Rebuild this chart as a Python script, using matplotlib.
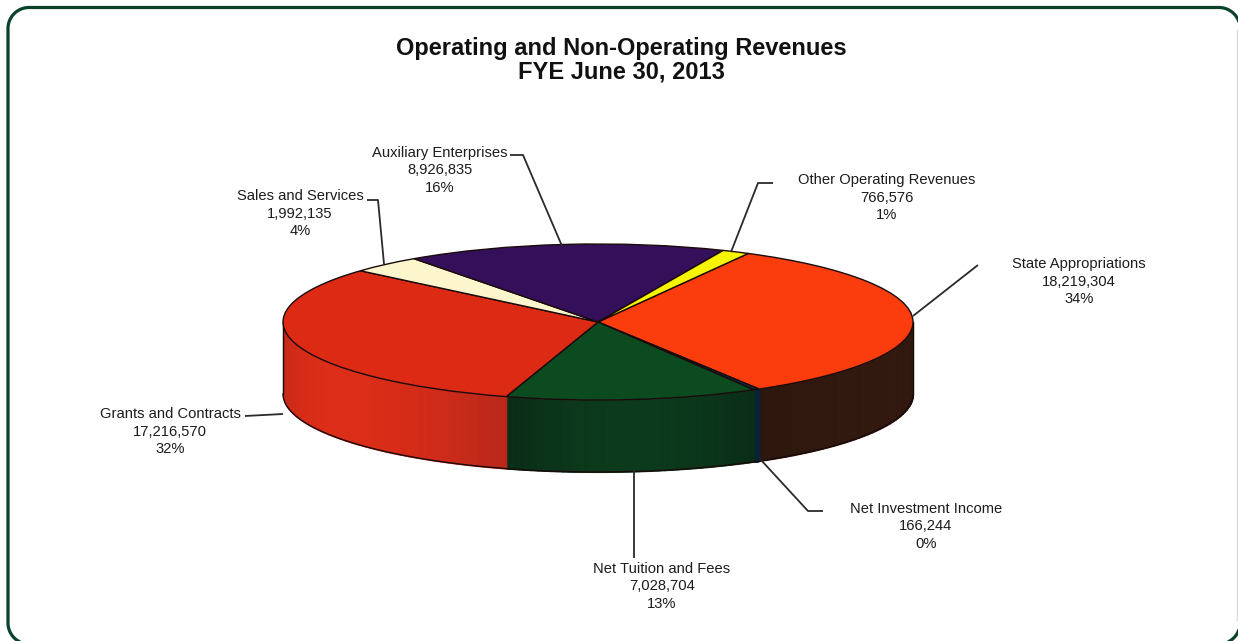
import matplotlib
matplotlib.use("Agg")
import matplotlib.pyplot as plt
import numpy as np
from matplotlib.colors import to_rgb

plt.rcParams['font.family'] = ['Liberation Sans', 'DejaVu Sans']

W, H = 1238, 641

categories = ["State Appropriations", "Net Investment Income", "Net Tuition and Fees",
              "Grants and Contracts", "Sales and Services", "Auxiliary Enterprises",
              "Other Operating Revenues"]
values = [18219304, 166244, 7028704, 17216570, 1992135, 8926835, 766576]
percents = ["34%", "0%", "13%", "32%", "4%", "16%", "1%"]

top_colors = ["#fb3d0e", "#0b2a4a", "#0c4a20", "#dc2a15", "#fdf6cc", "#34105a", "#f6f400"]
side_edge = ["#2c170e", "#06233a", "#0a2c17", "#b8281a", "#d8d2a8", "#220a3c", "#c0c000"]
side_mid = ["#32190f", "#06233a", "#0b3a1c", "#dc2d18", "#e8e2b8", "#2a0c48", "#d0d000"]

# pie centre / squash, in pixels
cx, cy, rx, ry, depth = 598, 322, 315, 78, 72

fig = plt.figure(figsize=(W / 100, H / 100), dpi=100, facecolor="white")

ax = fig.add_axes([0, 0, 1, 1])
wedges, _ = ax.pie(values, colors=top_colors, startangle=61.5, counterclock=False, radius=1,
                   wedgeprops=dict(edgecolor="#1a0a0a", linewidth=1.0, zorder=5))
ax.set_aspect("auto")
ax.set_xlim((0 - cx) / rx, (W - cx) / rx)
ax.set_ylim((cy - H) / ry, cy / ry)
ax.axis("off")

d = depth / ry
for w, ce, cm in zip(wedges, side_edge, side_mid):
    t1 = max(w.theta1 % 360 if w.theta1 % 360 > 90 else w.theta1, 180)
    t2 = min(w.theta2, 360)
    # wedges that wrap negative angles
    if w.theta2 <= 0:
        t1, t2 = max(w.theta1 + 360, 180), w.theta2 + 360
    elif w.theta1 < 0:
        t1, t2 = max(w.theta1 + 360, 180), 360
    if t2 <= t1:
        continue
    edges = np.linspace(t1, t2, 41)
    e_rgb, m_rgb = np.array(to_rgb(ce)), np.array(to_rgb(cm))
    for i in range(len(edges) - 1):
        f = abs((i + 0.5) / 40 - 0.5) * 2
        col = m_rgb + (e_rgb - m_rgb) * f ** 2
        th = np.radians(np.linspace(edges[i], edges[i + 1], 4))
        x = np.cos(th)
        ax.fill_between(x, np.sin(th) - d, np.sin(th), facecolor=col, edgecolor=col,
                        linewidth=0.8, zorder=2)

# outline of the side
th = np.radians(np.linspace(180, 360, 200))
ax.plot(np.cos(th), np.sin(th) - d, color="#1a0a0a", lw=1.0, zorder=3)
ax.plot([-1, -1], [0, -d], color="#1a0a0a", lw=1.0, zorder=3)
ax.plot([1, 1], [0, -d], color="#1a0a0a", lw=1.0, zorder=3)

# pixel overlay for the frame, labels and leader lines
ov = fig.add_axes([0, 0, 1, 1])
ov.set_xlim(0, W)
ov.set_ylim(H, 0)
ov.axis("off")
ov.patch.set_alpha(0)

# rounded frame, runs just off the right and bottom of the scan
x0, x1, y0, y1, r = 8, 1240, 7.5, 644, 21
arc = np.radians(np.linspace(0, 90, 20))
fx = np.concatenate([x1 - r + r * np.sin(arc), x1 - r + r * np.cos(arc), x0 + r - r * np.sin(arc),
                     x0 + r - r * np.cos(arc), [x1 - r]])
fy = np.concatenate([y0 + r - r * np.cos(arc), y1 - r + r * np.sin(arc), y1 - r + r * np.cos(arc),
                     y0 + r - r * np.sin(arc), [y0]])
ov.plot(fx, fy, color="#0b4229", lw=2.3, clip_on=False, solid_capstyle="butt", solid_joinstyle="round")
ov.plot([1237, 1237], [30, 620], color="#d5dcd8", lw=1)

ov.text(621, 60, "Operating and Non-Operating Revenues\nFYE June 30, 2013", ha="center", va="center",
        fontsize=17, fontweight="bold", color="#111111", linespacing=1.03)

label_xy = [(1079, 281), (926, 526), (662, 586), (170, 431), (300, 213), (440, 170), (887, 197)]
leaders = [
    ([978, 913], [265, 316]),
    ([823, 808, 761], [511, 511, 460]),
    ([634, 634], [558, 470]),
    ([245, 283], [416, 414]),
    ([367, 378, 384], [200, 200, 264]),
    ([510, 523, 562], [155, 155, 246]),
    ([773, 758, 731], [183, 183, 252]),
]

for name, val, pct, (lx, ly) in zip(categories, values, percents, label_xy):
    ov.text(lx, ly + 0.5, f"{name}\n{val:,}\n{pct}", ha="center", va="center", fontsize=10.6,
            color="#1c1c1c", linespacing=1.28)
for xs, ys in leaders:
    ov.plot(xs, ys, color="#2a2a2a", lw=1.3, solid_capstyle="butt")

fig.savefig("out.png", dpi=100, facecolor="white")
